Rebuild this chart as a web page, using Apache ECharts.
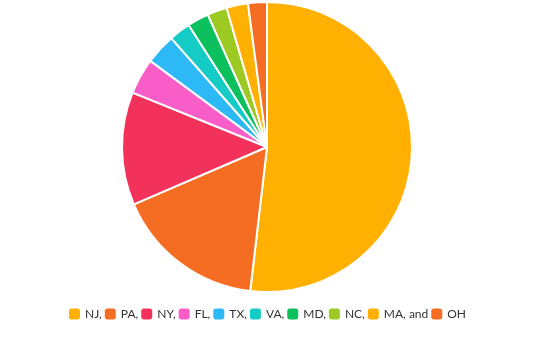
<!DOCTYPE html>
<html><head><meta charset="utf-8">
<script src="https://cdn.jsdelivr.net/npm/echarts@6/dist/echarts.min.js"></script>
<style>html,body{margin:0;padding:0;background:#fff}#c{width:535px;height:338px}</style>
</head><body><div id="c"></div>
<script>
const categories = ["NJ,", "PA,", "NY,", "FL,", "TX,", "VA,", "MD,", "NC,", "MA, and", "OH"];
const values = [51.9, 16.7, 12.6, 4.0, 3.4, 2.4, 2.4, 2.2, 2.4, 2.1];
const colors = ["#ffb000", "#f46d22", "#f2325b", "#f95ec8", "#2db8f6", "#14cbc6", "#0cc05e", "#9cca22", "#ffb000", "#f46d22"];
const chart = echarts.init(document.getElementById('c'));
chart.setOption({
  animation: false,
  legend: {
    top: 303, left: 'center', itemWidth: 11, itemHeight: 11, itemGap: 3,
    icon: 'roundRect',
    itemStyle: {borderWidth: 0},
    textStyle: {fontSize: 12, color: '#333', fontFamily: 'Lato'},
    data: categories
  },
  series: [{
    type: 'pie', center: [267, 147], radius: [0, 145], startAngle: 90, clockwise: true,
    label: {show: false}, labelLine: {show: false},
    itemStyle: {borderColor: '#fff', borderWidth: 2},
    data: categories.map((c, i) => ({name: c, value: values[i], itemStyle: {color: colors[i]}}))
  }]
});
</script></body></html>
